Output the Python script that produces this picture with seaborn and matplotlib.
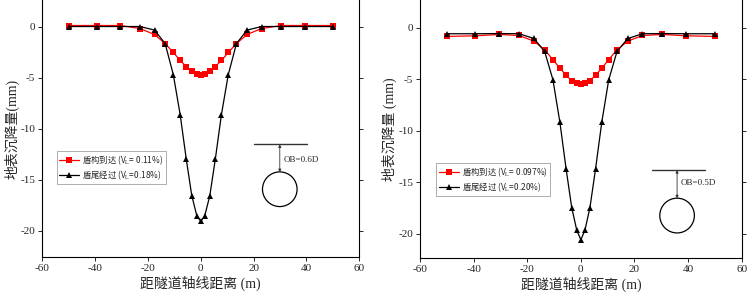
import numpy as np
import pandas as pd
import matplotlib
matplotlib.use("Agg")
import matplotlib.pyplot as plt
import seaborn as sns
from matplotlib.patches import Ellipse

sns.set_theme(style="ticks")
plt.rcParams['font.family'] = ['Liberation Serif', 'Noto Sans CJK SC', 'DejaVu Sans']
plt.rcParams['mathtext.fontset'] = 'stix'
plt.rcParams['axes.unicode_minus'] = False

# ---- data ----
x_pos = [-50, -39.3, -30.4, -23, -17.5, -13.5, -10.4, -7.8, -5.5, -3.4, -1.5, 0,
         1.5, 3.4, 5.5, 7.8, 10.4, 13.5, 17.5, 23, 30.4, 39.3, 50]

left_red = [0.1, 0.1, 0.1, -0.2, -0.78, -1.67, -2.54, -3.33, -3.92, -4.40, -4.64, -4.75,
            -4.64, -4.40, -3.92, -3.33, -2.54, -1.67, -0.78, -0.2, 0.1, 0.1, 0.1]
left_black = [0.0, 0.0, 0.0, 0.0, -0.35, -1.67, -4.72, -8.65, -13.0, -16.6, -18.55, -19.1,
              -18.55, -16.6, -13.0, -8.65, -4.72, -1.67, -0.35, 0.0, 0.0, 0.0, 0.0]

right_red = [-0.84, -0.78, -0.65, -0.75, -1.3, -2.14, -3.1, -3.93, -4.6, -5.16, -5.39, -5.45,
             -5.39, -5.16, -4.6, -3.93, -3.1, -2.14, -1.3, -0.75, -0.65, -0.78, -0.84]
right_black = [-0.58, -0.58, -0.56, -0.58, -1.04, -2.3, -5.06, -9.2, -13.7, -17.47, -19.7, -20.6,
               -19.7, -17.47, -13.7, -9.2, -5.06, -2.3, -1.04, -0.58, -0.56, -0.58, -0.58]

left_labels = ['盾构到达 (V$_{\\mathrm{L}}$= 0.11%)', '盾尾经过 (V$_{\\mathrm{L}}$=0.18%)']
right_labels = ['盾构到达 (V$_{\\mathrm{L}}$= 0.097%)', '盾尾经过 (V$_{\\mathrm{L}}$=0.20%)']
x_ticks = [-60, -40, -20, 0, 20, 40, 60]
y_ticks = [0, -5, -10, -15, -20]
left_ylabel = '地表沉降量(mm)'
right_ylabel = '地表沉降量 (mm)'
xlabel = '距隧道轴线距离 (m)'
left_ob = 'OB=0.6D'
right_ob = 'OB=0.5D'

fig = plt.figure(figsize=(7.47, 3.01), dpi=100)
axL = fig.add_axes([0.0566, 0.146, 0.4244, 0.854])
axR = fig.add_axes([0.5622, 0.142, 0.4307, 0.858])


def draw(ax, red, black, labels, ylim, ylabel, leg_anchor):
    dfr = pd.DataFrame({'x': x_pos, 'y': red})
    dfb = pd.DataFrame({'x': x_pos, 'y': black})
    sns.lineplot(data=dfr, x='x', y='y', ax=ax, color='#ff0000', marker='s',
                 markersize=4.3, markeredgewidth=0, linewidth=0.9, label=labels[0])
    sns.lineplot(data=dfb, x='x', y='y', ax=ax, color='black', marker='^',
                 markersize=5.0, markeredgewidth=0, linewidth=0.9, label=labels[1])
    ax.set_xlim(-60, 60)
    ax.set_ylim(*ylim)
    ax.set_xticks(x_ticks)
    ax.set_yticks(y_ticks)
    ax.set_yticklabels([str(v) for v in y_ticks])
    ax.set_xticklabels([str(v) for v in x_ticks])
    ax.tick_params(axis='both', labelsize=8, direction='out', length=3, width=0.7, pad=2)
    ax.tick_params(axis='y', right=True)
    for s in ['left', 'bottom', 'right']:
        ax.spines[s].set_linewidth(0.8)
        ax.spines[s].set_color('black')
    ax.spines['top'].set_visible(False)
    ax.set_xlabel(xlabel, fontsize=10, labelpad=2)
    ax.set_ylabel(ylabel, fontsize=10, labelpad=1)
    leg = ax.legend(loc='upper left', bbox_to_anchor=leg_anchor, frameon=True, fancybox=False,
                    prop={'family': 'Noto Sans CJK SC', 'size': 6.0}, handlelength=2.4,
                    handletextpad=0.4, borderpad=0.3, labelspacing=0.2, borderaxespad=0)
    leg.get_frame().set_edgecolor('#888888')
    leg.get_frame().set_linewidth(0.6)


draw(axL, left_red, left_black, left_labels, (-22.6, 2.6), left_ylabel, (0.045, 0.414))
draw(axR, right_red, right_black, right_labels, (-22.4, 2.7), right_ylabel, (0.05, 0.37))

# tunnel schematic annotations
def schematic(ax, x0, x1, yline, xc, ytop, yc, rx, ry, text, tx, ty):
    ax.plot([x0, x1], [yline, yline], color='#333333', lw=1.0)
    ax.annotate('', xy=(xc, ytop), xytext=(xc, yline),
                arrowprops=dict(arrowstyle='<|-|>', color='#333333', lw=0.6,
                                mutation_scale=4, shrinkA=0, shrinkB=0))
    ax.add_patch(Ellipse((xc, yc), 2 * rx, 2 * ry, fill=False, edgecolor='black', lw=0.9))
    ax.text(tx, ty, text, fontsize=6.5, va='center', ha='left', family='Liberation Serif')

schematic(axL, 20.1, 40.2, -11.56, 29.9, -14.28, -15.95, 6.55, 1.7, left_ob, 31.2, -13.07)
schematic(axR, 26.4, 46.3, -13.83, 35.9, -16.58, -18.25, 6.45, 1.69, right_ob, 37.2, -15.1)

fig.savefig('out.png', dpi=100)
